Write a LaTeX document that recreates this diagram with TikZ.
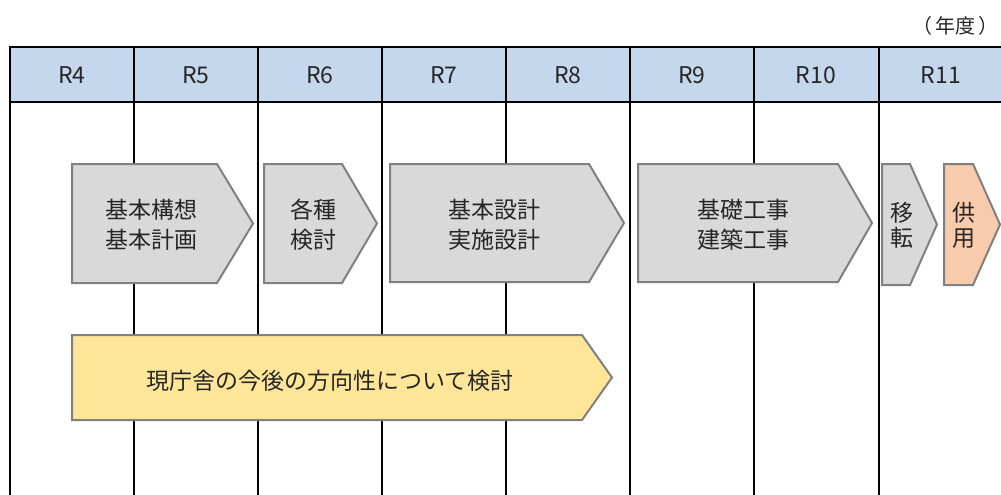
\documentclass[tikz,border=0pt]{standalone}
\usepackage{fontspec}
\setmainfont{Noto Sans CJK JP}
\definecolor{hdrblue}{HTML}{C5D7EC}
\definecolor{boxgray}{HTML}{D9D9D9}
\definecolor{boxedge}{HTML}{808080}
\definecolor{plannote}{HTML}{FFE699}
\definecolor{useorange}{HTML}{F8CBAD}
\definecolor{txtgray}{HTML}{262626}

\begin{document}
\begin{tikzpicture}[x = 1pt, y = -1pt,
	grid/.style = {black, line width = 2pt},
	chev/.style = {draw = boxedge, line width = 2pt, line join = miter},
	lbl/.style = {text = txtgray, font = \fontsize{23}{30}\selectfont, align = center, inner sep = 0pt},
	narrow/.style = {lbl, font = \fontsize{23}{25}\selectfont}]
	\useasboundingbox (0,0) rectangle (1001,495);
	\fill [hdrblue] (10,47) rectangle (1001,102);
	\draw [grid] (1001,47) -- (10,47) -- (10,495)
		(10,102) -- (1001,102);
	\foreach \x in {134,258,382,506,630,754,879}
		\draw [grid] (\x,47) -- (\x,495);
	\foreach \x/\t [count = \i] in {72/R4, 196/R5, 320/R6, 444/R7, 568/R8, 692/R9, 816/R10, 941/R11}
		\node [lbl] (yr\i) at (\x,75) {\t};
	\node [lbl, anchor = east, font = \fontsize{20}{24}\selectfont] (unit) at (999,26) {（\,年度\,）};
	\filldraw [chev, fill = boxgray] (72,164) -- (217,164) -- (253,223.5) -- (217,283) -- (72,283) -- cycle
		(264,164) -- (342,164) -- (377,223.5) -- (342,283) -- (264,283) -- cycle
		(390,164) -- (589,164) -- (624,223) -- (589,282) -- (390,282) -- cycle
		(638,164) -- (838,164) -- (872,223) -- (838,282) -- (638,282) -- cycle
		(882,164) -- (910,164) -- (937,224.5) -- (910,285) -- (882,285) -- cycle;
	\filldraw [chev, fill = useorange] (944,164) -- (973,164) -- (1000,224.5) -- (973,285) -- (944,285) -- cycle;
	\filldraw [chev, fill = plannote] (72,335) -- (582,335) -- (612,377.5) -- (582,420) -- (72,420) -- cycle;
	\node [lbl] (plan) at (151,225) {基本構想\\基本計画};
	\node [lbl] (study) at (313,225) {各種\\検討};
	\node [lbl] (design) at (494,225) {基本設計\\実施設計};
	\node [lbl] (build) at (743,225) {基礎工事\\建築工事};
	\node [narrow] (move) at (902,225) {移\\転};
	\node [narrow] (open) at (963.5,225) {供\\用};
	\node [lbl] (review) at (330,381) {現庁舎の今後の方向性について検討};
\end{tikzpicture}
\end{document}
